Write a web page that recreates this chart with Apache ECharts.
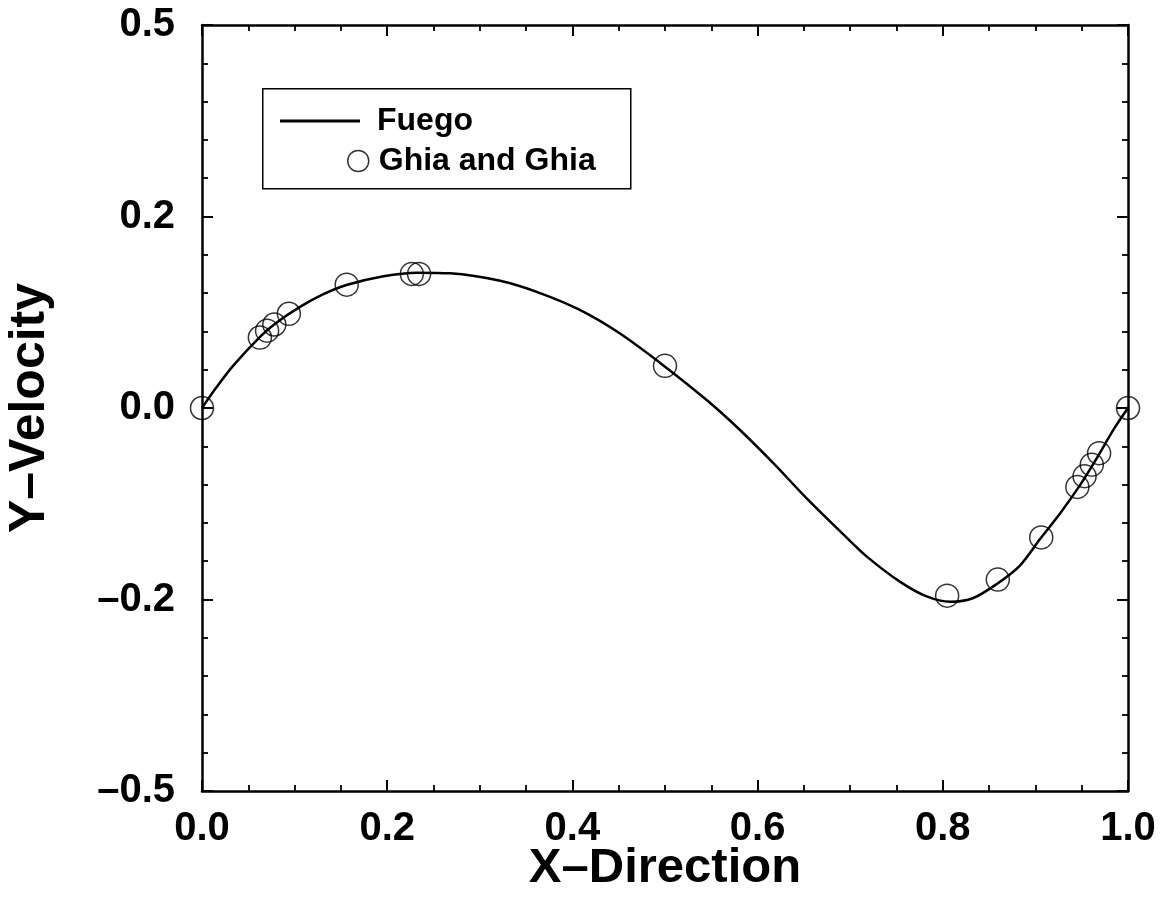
<!DOCTYPE html>
<html>
<head>
<meta charset="utf-8">
<script src="https://cdn.jsdelivr.net/npm/echarts@6/dist/echarts.min.js"></script>
<style>
html,body{margin:0;padding:0;background:#fff;}
#chart{width:1164px;height:901px;}
</style>
</head>
<body>
<div id="chart"></div>
<script>
// Fuego solution (line)
const fuegoX = [0, 0.015, 0.0335, 0.0626, 0.08, 0.1058, 0.13, 0.156, 0.196, 0.232, 0.268, 0.322, 0.365, 0.408, 0.451, 0.5, 0.545, 0.581, 0.617, 0.653, 0.6926, 0.718, 0.754, 0.7826, 0.808, 0.833, 0.858, 0.883, 0.905, 0.927, 0.948, 0.965, 0.985, 1.0];
const fuegoY = [0, 0.026, 0.055, 0.093, 0.111, 0.132, 0.148, 0.1606, 0.172, 0.1767, 0.1758, 0.166, 0.150, 0.128, 0.0975, 0.054, 0.0104, -0.0287, -0.072, -0.118, -0.165, -0.194, -0.227, -0.246, -0.253, -0.248, -0.230, -0.206, -0.171, -0.137, -0.101, -0.068, -0.027, 0];
// Ghia and Ghia (circles)
const ghiaX = [0, 0.0625, 0.0703, 0.0781, 0.0938, 0.1563, 0.2266, 0.2344, 0.5, 0.8047, 0.8594, 0.9063, 0.9453, 0.9531, 0.9609, 0.9688, 1.0];
const ghiaY = [0, 0.092, 0.101, 0.109, 0.123, 0.161, 0.175, 0.175, 0.055, -0.245, -0.224, -0.169, -0.103, -0.089, -0.074, -0.059, 0];
// tick labels
const xTickValues = [0, 0.2, 0.4, 0.6, 0.8, 1.0];
const xTickLabels = ['0.0', '0.2', '0.4', '0.6', '0.8', '1.0'];
const yTickValues = [-0.5, -0.25, 0, 0.25, 0.5];
const yTickLabels = ['\u20130.5', '\u20130.2', '0.0', '0.2', '0.5'];

const FONT = '"Liberation Sans", Arial, Helvetica, sans-serif';

function labelFor(values, labels) {
  return function (v) {
    for (let i = 0; i < values.length; i++) {
      if (Math.abs(values[i] - v) < 1e-6) return labels[i];
    }
    return '';
  };
}

const fuegoData = fuegoX.map((x, i) => [x, fuegoY[i]]);
const ghiaData = ghiaX.map((x, i) => [x, ghiaY[i]]);

const axisLine = { show: true, onZero: false, lineStyle: { color: '#000', width: 2.5 } };
const tick = { show: true, inside: true, length: 11, lineStyle: { color: '#000', width: 2 } };
const minorTick = { show: true, length: 6, lineStyle: { color: '#000', width: 1.8 } };

const chart = echarts.init(document.getElementById('chart'), null, { renderer: 'canvas' });
chart.setOption({
  animation: false,
  backgroundColor: '#fff',
  grid: { left: 202, right: 36, top: 25, bottom: 110, containLabel: false, outerBoundsMode: 'none' },
  xAxis: [
    {
      type: 'value', position: 'bottom', min: 0, max: 1, interval: 0.2,
      axisLine: axisLine, axisTick: tick,
      minorTick: Object.assign({ splitNumber: 4 }, minorTick),
      splitLine: { show: false },
      axisLabel: { show: true, margin: 18, color: '#000', fontFamily: FONT, fontWeight: 'bold', fontSize: 40, formatter: labelFor(xTickValues, xTickLabels) },
      name: 'X\u2013Direction', nameLocation: 'middle', nameGap: 53, nameMoveOverlap: false,
      nameTextStyle: { color: '#000', fontFamily: FONT, fontWeight: 'bold', fontSize: 49 }
    },
    {
      type: 'value', position: 'top', min: 0, max: 1, interval: 0.2,
      axisLine: axisLine, axisTick: tick,
      minorTick: Object.assign({ splitNumber: 4 }, minorTick),
      splitLine: { show: false }, axisLabel: { show: false }
    }
  ],
  yAxis: [
    {
      type: 'value', position: 'left', min: -0.5, max: 0.5, interval: 0.25,
      axisLine: axisLine, axisTick: tick,
      minorTick: Object.assign({ splitNumber: 5 }, minorTick),
      splitLine: { show: false },
      axisLabel: { show: true, margin: 27, color: '#000', fontFamily: FONT, fontWeight: 'bold', fontSize: 40, formatter: labelFor(yTickValues, yTickLabels) },
      name: 'Y\u2013Velocity', nameLocation: 'middle', nameGap: 147, nameMoveOverlap: false,
      nameTextStyle: { color: '#000', fontFamily: FONT, fontWeight: 'bold', fontSize: 50 }
    },
    {
      type: 'value', position: 'right', min: -0.5, max: 0.5, interval: 0.25,
      axisLine: axisLine, axisTick: tick,
      minorTick: Object.assign({ splitNumber: 5 }, minorTick),
      splitLine: { show: false }, axisLabel: { show: false }
    }
  ],
  legend: [
    {
      data: ['Fuego'], left: 280, top: 105, orient: 'vertical', padding: 0,
      itemWidth: 80, itemHeight: 3, icon: 'rect',
      itemStyle: { color: '#000', borderWidth: 0 },
      textStyle: { color: '#000', fontFamily: FONT, fontWeight: 'bold', fontSize: 32, padding: [0, 0, 0, 12] }
    },
    {
      data: ['Ghia and Ghia'], left: 347, top: 145, orient: 'vertical', padding: 0,
      itemWidth: 21, itemHeight: 21, icon: 'circle',
      itemStyle: { color: 'rgba(0,0,0,0)', borderColor: '#000', borderWidth: 1.5 },
      textStyle: { color: '#000', fontFamily: FONT, fontWeight: 'bold', fontSize: 32, padding: [0, 0, 0, 5] }
    }
  ],
  graphic: [
    {
      type: 'rect', left: 262, top: 88, z: 1,
      shape: { width: 368, height: 100 },
      style: { fill: '#fff', stroke: '#000', lineWidth: 1.5 }
    }
  ],
  series: [
    {
      name: 'Fuego', type: 'line', data: fuegoData, xAxisIndex: 0, yAxisIndex: 0,
      smooth: 0.3, symbol: 'none', showSymbol: false,
      lineStyle: { color: '#000', width: 2.5 }, itemStyle: { color: '#000' }, z: 2
    },
    {
      name: 'Ghia and Ghia', type: 'scatter', data: ghiaData, xAxisIndex: 0, yAxisIndex: 0,
      symbol: 'circle', symbolSize: 23,
      itemStyle: { color: 'rgba(0,0,0,0)', borderColor: '#000', borderWidth: 1.5 }, z: 3
    }
  ]
});
</script>
</body>
</html>
